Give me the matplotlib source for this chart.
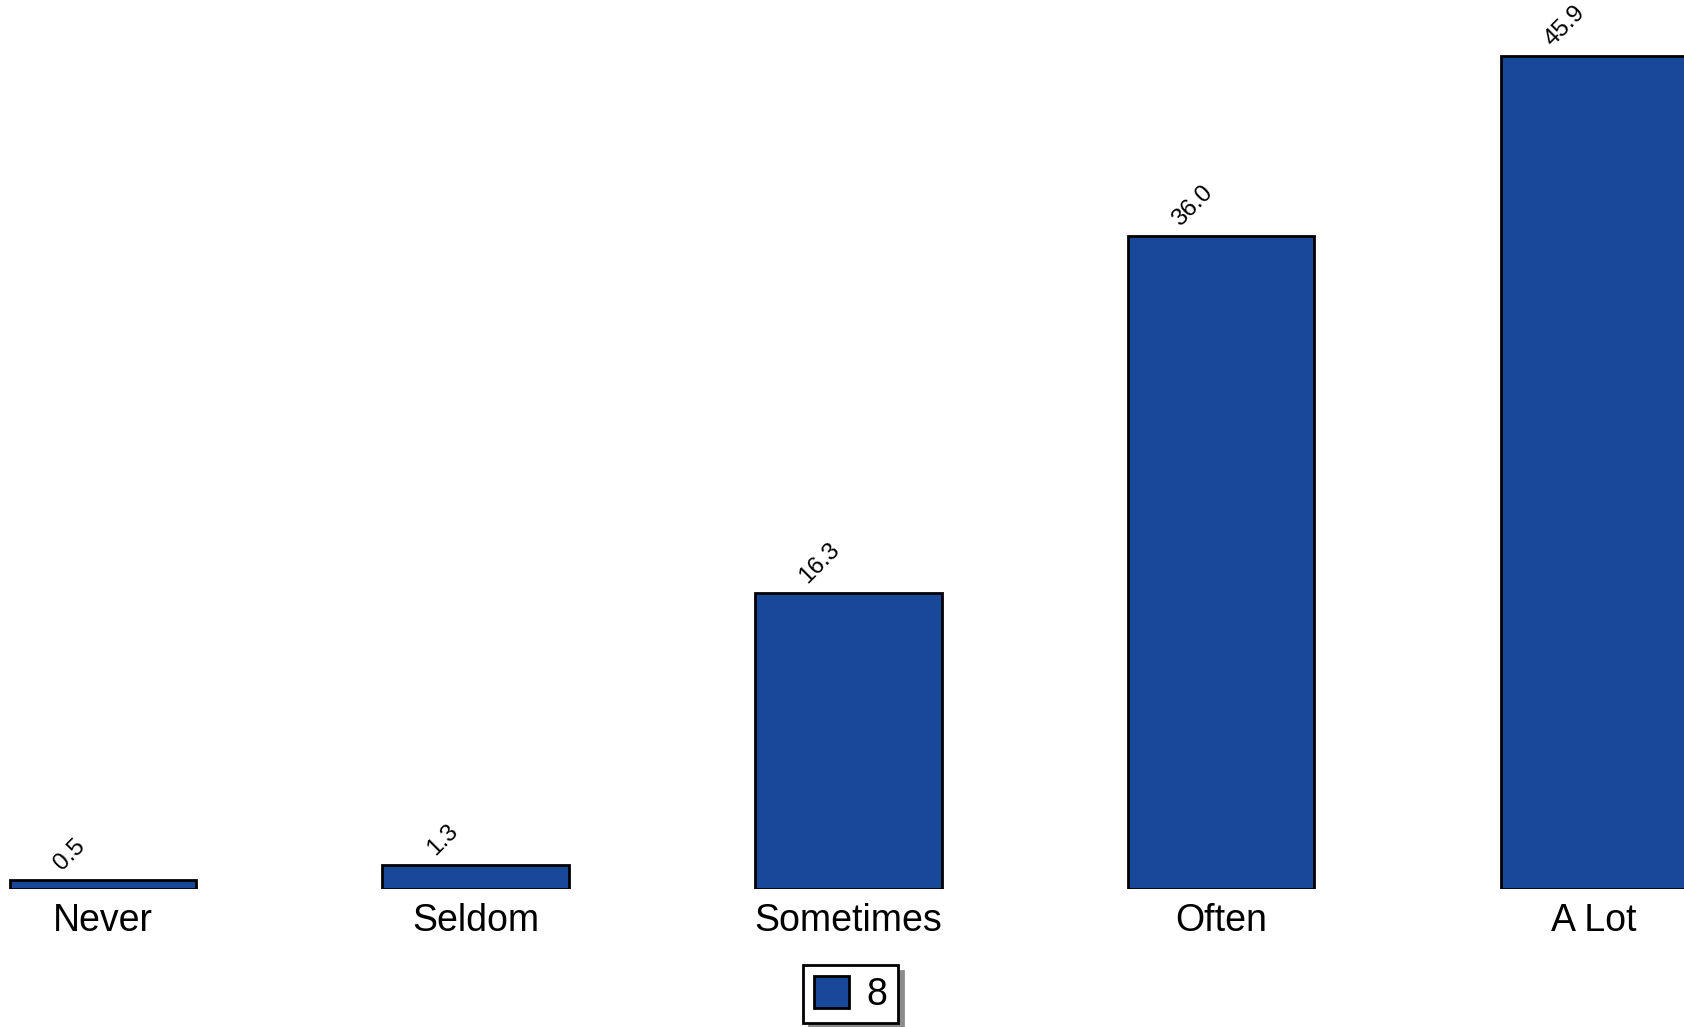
import matplotlib.pyplot as plt
import numpy as np

plt.rcParams['font.family'] = ['Liberation Sans', 'DejaVu Sans']

# data
categories = ['Never', 'Seldom', 'Sometimes', 'Often', 'A Lot']
values = [0.5, 1.3, 16.3, 36.0, 45.9]
series_name = '8'
bar_color = '#19479a'

fig = plt.figure(figsize=(16.84, 10.27), dpi=100)
ax = fig.add_axes([0, 0.1344, 1, 0.8656])

x = np.arange(len(categories))
bars = ax.bar(x, values, width=0.5, color=bar_color, edgecolor='black',
              linewidth=2, label=series_name, zorder=2)

# rotated value labels above each bar
for xi, v in zip(x, values):
    ax.annotate(f'{v:.1f}', xy=(xi - 0.1, v), xytext=(0, 4),
                textcoords='offset points', rotation=45,
                rotation_mode='anchor', ha='left', va='bottom', fontsize=17.5)

ax.set_xlim(-0.276, 4.242)
ax.set_ylim(0, 49)
ax.set_xticks(x)
ax.set_xticklabels(categories, fontsize=27)
ax.tick_params(axis='x', length=0, pad=10)
ax.set_yticks([])
for s in ax.spines.values():
    s.set_visible(False)

leg = fig.legend(loc='lower center', bbox_to_anchor=(0.505, 0.0), fontsize=27,
                 frameon=True, fancybox=False, edgecolor='black',
                 shadow={'ox': 4, 'oy': -4, 'color': '0.55', 'alpha': 1},
                 handlelength=0.95, handleheight=0.95, handletextpad=0.45,
                 borderpad=0.28, borderaxespad=0.1)
leg.get_frame().set_linewidth(2)
for h in leg.legend_handles:
    h.set_linewidth(2)

fig.savefig('out.png', dpi=100)
